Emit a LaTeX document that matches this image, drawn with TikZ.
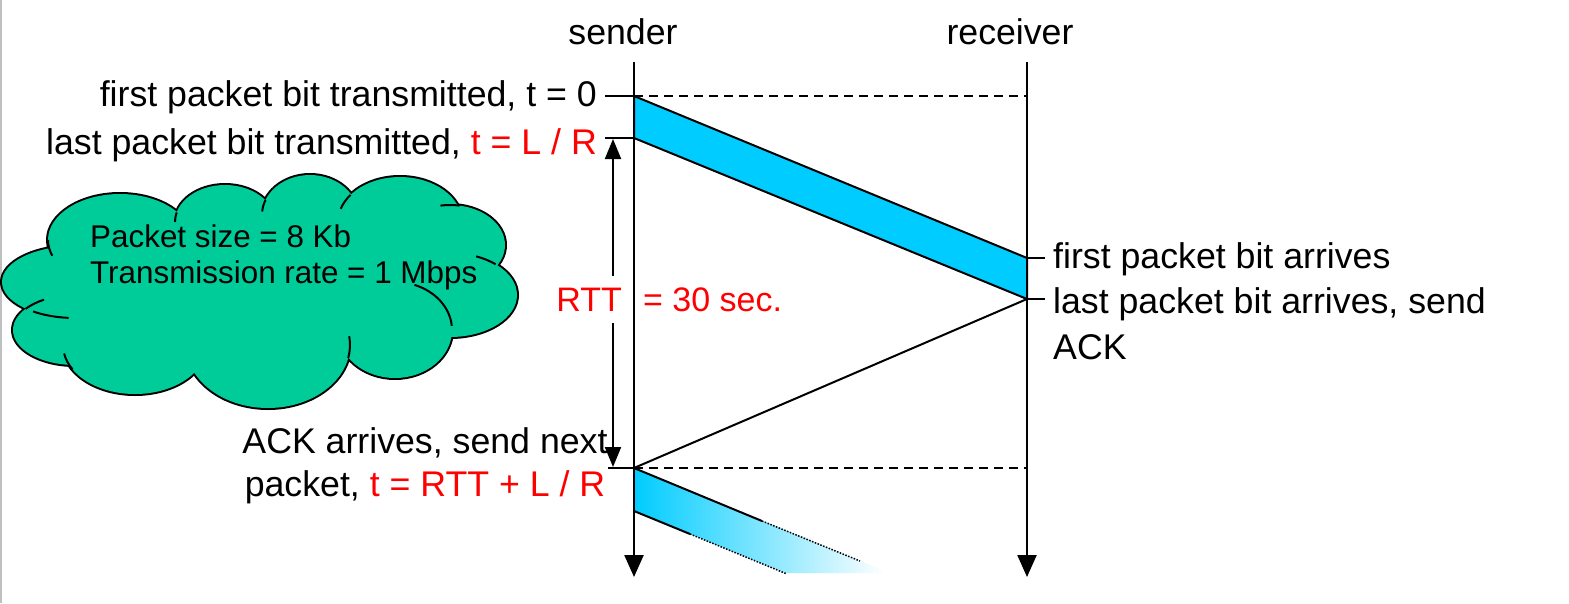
\documentclass[tikz,border=0pt]{standalone}
\usepackage{fontspec}
\setmainfont{Liberation Sans}
\usetikzlibrary{arrows.meta}
\definecolor{pktblue}{HTML}{00CCFF}
\definecolor{cloudgreen}{HTML}{00CC99}
\definecolor{txtred}{HTML}{FF0000}
\begin{document}
\begin{tikzpicture}[x=1pt,y=-1pt,
  lbl/.style={inner sep=0pt, font=\fontsize{35.7}{40}\selectfont},
  cloudtxt/.style={inner sep=0pt, font=\fontsize{31.4}{36}\selectfont},
  redlbl/.style={inner sep=0pt, text=txtred, font=\fontsize{34}{40}\selectfont},
  axisline/.style={line width=2.4pt, -{Triangle[length=22pt,width=19pt]}},
  thinline/.style={line width=2pt},
  dashline/.style={line width=1.6pt, dash pattern=on 9pt off 6pt},
  dotline/.style={line width=1.5pt, dash pattern=on 1.5pt off 1.5pt},
  rttarrow/.style={line width=2pt, {Triangle[length=20pt,width=16pt]}-{Triangle[length=20pt,width=16pt]}}
]
\useasboundingbox (0,0) rectangle (1569,603);
\fill[white] (0,0) rectangle (1569,603);
\draw[gray!50, line width=1.5pt] (1,0) -- (1,603);

% ---------- coordinates
\coordinate (s0) at (634,62);   \coordinate (sEnd) at (634,577);
\coordinate (r0) at (1027,62);  \coordinate (rEnd) at (1027,577);
\coordinate (sA) at (634,96);   \coordinate (rA0) at (1027,96);
\coordinate (sB) at (634,138);
\coordinate (rA) at (1027,258); \coordinate (rB) at (1027,299);
\coordinate (sC) at (634,468);  \coordinate (rC) at (1027,468);
\coordinate (sD) at (634,511);
\coordinate (tA) at (605,96);   \coordinate (tB) at (605,138);
\coordinate (tC) at (608,468);
\coordinate (uA) at (1045,258); \coordinate (uB) at (1045,299);
\coordinate (rttTop) at (613,139); \coordinate (rttBot) at (613,467);
\coordinate (p1) at (762,521);  \coordinate (p2) at (860,561);
\coordinate (q1) at (690,534);  \coordinate (q2) at (787,574);

% ---------- cloud
\draw[line width=4pt] foreach \cx/\cy/\rx/\ry in
  {120/240/72/46, 225/222/50/37, 310/215/48/40, 400/222/62/45,
   450/245/55/40, 450/295/67/42, 395/330/57/48, 268/345/82/63,
   135/345/72/49, 75/330/62/35, 75/282/73/36, 270/285/190/75}
  { (\cx,\cy) ellipse[x radius=\rx, y radius=\ry] };
\fill[cloudgreen] foreach \cx/\cy/\rx/\ry in
  {120/240/72/46, 225/222/50/37, 310/215/48/40, 400/222/62/45,
   450/245/55/40, 450/295/67/42, 395/330/57/48, 268/345/82/63,
   135/345/72/49, 75/330/62/35, 75/282/73/36, 270/285/190/75}
  { (\cx,\cy) ellipse[x radius=\rx, y radius=\ry] };
\draw[thinline] foreach \cx/\cy/\rx/\ry/\a/\b in
  {120/240/72/46/180/160, 75/282/73/36/125/95, 135/345/72/49/150/170,
   268/345/82/63/12/-8, 395/330/57/48/-70/-5, 450/245/55/40/-80/-100,
   400/222/62/45/-143/-163, 310/215/48/40/-158/-175, 225/222/50/37/-165/-180,
   450/295/67/42/-47/-67, 75/330/62/35/-143/-120}
  { ({\cx+\rx*cos(\a)},{\cy+\ry*sin(\a)}) arc[start angle=\a, end angle=\b, x radius=\rx, y radius=\ry] };
\node[cloudtxt, anchor=base west] (c1) at (90,247) {Packet size = 8 Kb};
\node[cloudtxt, anchor=base west] (c2) at (90,283) {Transmission rate = 1 Mbps};

% ---------- packets
\filldraw[fill=pktblue, thinline] (sA) -- (rA) -- (rB) -- (sB) -- cycle;
\shade[left color=pktblue, right color=white] (sC) -- (sD) -- (785,573) -- (885,573) -- (880,569) -- cycle;
\draw[thinline] (sC) -- (p1);
\draw[dotline] (p1) -- (p2);
\draw[thinline] (sD) -- (q1);
\draw[dotline] (q1) -- (q2);

% ---------- dashed lines, ticks, ack line
\draw[dashline] (sA) -- (rA0);
\draw[dashline] (sC) -- (rC);
\draw[thinline] (tA) -- (sA);
\draw[thinline] (tB) -- (sB);
\draw[thinline] (tC) -- (sC);
\draw[thinline] (rA) -- (uA);
\draw[thinline] (rB) -- (uB);
\draw[thinline] (rB) -- (sC);

% ---------- RTT arrow
\draw[rttarrow] (rttTop) -- (rttBot);
\node[redlbl, anchor=base east, fill=white, inner ysep=12pt] (rtt) at (622,311) {RTT};
\node[redlbl, anchor=base west] (rttval) at (643,311) {= 30 sec.};

% ---------- time axes
\draw[axisline] (s0) -- (sEnd);
\draw[axisline] (r0) -- (rEnd);

% ---------- labels
\node[lbl, anchor=base] (snd) at (623,44) {sender};
\node[lbl, anchor=base] (rcv) at (1010,44) {receiver};
\node[lbl, anchor=base east] (l1) at (597,106) {first packet bit transmitted, t = 0};
\node[lbl, anchor=base east] (l2) at (597,154) {last packet bit transmitted, \textcolor{txtred}{t = L / R}};
\node[lbl, anchor=base west] (r1) at (1053,268) {first packet bit arrives};
\node[lbl, anchor=base west] (r2) at (1053,313) {last packet bit arrives, send};
\node[lbl, anchor=base west] (r3) at (1053,359) {ACK};
\node[lbl, anchor=base] (ack1) at (425,453) {ACK arrives, send next};
\node[lbl, anchor=base] (ack2) at (425,496) {packet, \textcolor{txtred}{t = RTT + L / R}};
\end{tikzpicture}
\end{document}
